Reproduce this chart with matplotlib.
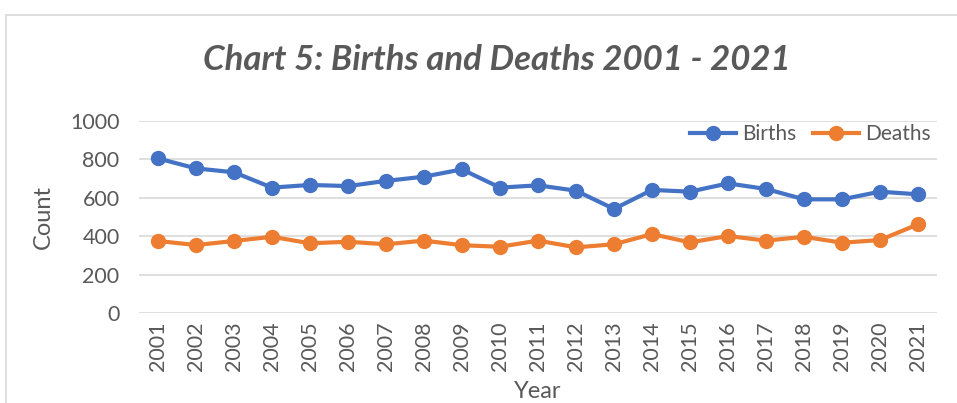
import matplotlib.pyplot as plt
from matplotlib.patches import Rectangle

plt.rcParams['font.family'] = ['Lato', 'DejaVu Sans']

# Year
years = [2001, 2002, 2003, 2004, 2005, 2006, 2007, 2008, 2009, 2010, 2011,
         2012, 2013, 2014, 2015, 2016, 2017, 2018, 2019, 2020, 2021]

# Births per year
births = [805, 753, 733, 653, 667, 661, 688, 710, 748, 653, 665,
          637, 542, 641, 632, 675, 646, 592, 592, 632, 618]

# Deaths per year
deaths = [375, 354, 375, 397, 363, 371, 358, 377, 353, 345, 377,
          342, 358, 411, 368, 401, 377, 397, 366, 380, 462]

grey = '#595959'

fig = plt.figure(figsize=(9.57, 4.03), dpi=100)
# chart frame
fig.patches.append(Rectangle((6 / 957, -0.1), 1.2, 1.1 - 15 / 403, transform=fig.transFigure,
                             fill=False, edgecolor='#d9d9d9', lw=1.2))

ax = fig.add_axes([139 / 957, 1 - 313 / 403, (937 - 139) / 957, (313 - 121) / 403])

x = list(range(len(years)))
ax.plot(x, births, color='#4472C4', lw=3, marker='o', markersize=10, label='Births', zorder=3)
ax.plot(x, deaths, color='#ED7D31', lw=3, marker='o', markersize=10, label='Deaths', zorder=3)

ax.set_xlim(-0.5, len(years) - 0.5)
ax.set_ylim(0, 1000)
ax.set_yticks([0, 200, 400, 600, 800, 1000])
ax.set_xticks(x)
ax.set_xticklabels([str(y) for y in years], rotation=90)
ax.tick_params(axis='both', length=0, colors=grey, labelsize=15.5)
ax.tick_params(axis='y', pad=14)
ax.tick_params(axis='x', pad=6)
ax.grid(axis='y', color='#d9d9d9', lw=1.2)
ax.set_axisbelow(True)
for s in ax.spines.values():
    s.set_visible(False)

ax.set_ylabel('Count', color=grey, fontsize=17, labelpad=12)
ax.set_xlabel('Year', color=grey, fontsize=17, va='center')
ax.xaxis.set_label_coords(0.5, -79 / 192)

fig.text(497 / 957, 1 - 60 / 403, 'Chart 5: Births and Deaths 2001 - 2021', ha='center', va='center',
         fontsize=25, fontweight='bold', fontstyle='italic', color=grey)

ax.legend(loc='upper right', bbox_to_anchor=(1.016, 1.08), ncol=2, frameon=False, fontsize=15,
          labelcolor=grey, handlelength=2.2, columnspacing=0.8, handletextpad=0.3)

fig.savefig('out.png', dpi=100)
